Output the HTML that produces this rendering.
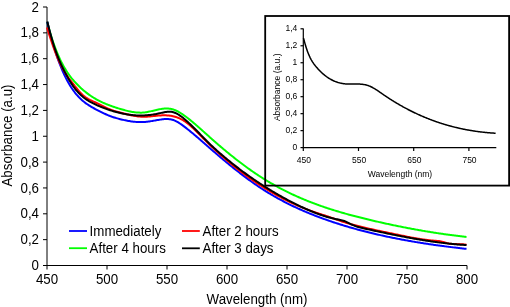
<!DOCTYPE html><html><head><meta charset="utf-8"><style>html,body{margin:0;padding:0;background:#fff;width:510px;height:307px;overflow:hidden}svg{display:block;will-change:transform}text{font-family:"Liberation Sans", sans-serif}</style></head><body>
<svg width="510" height="307" viewBox="0 0 510 307">
<g stroke="#000" stroke-width="1.2" fill="none">
<path d="M303.30,28.6 V147.60 H496.3"/>
<path d="M300.5,147.60 H303.30"/>
<path d="M300.5,130.63 H303.30"/>
<path d="M300.5,113.66 H303.30"/>
<path d="M300.5,96.68 H303.30"/>
<path d="M300.5,79.71 H303.30"/>
<path d="M300.5,62.74 H303.30"/>
<path d="M300.5,45.77 H303.30"/>
<path d="M300.5,28.80 H303.30"/>
<path d="M303.30,147.60 V151"/>
<path d="M358.50,147.60 V151"/>
<path d="M413.70,147.60 V151"/>
<path d="M468.90,147.60 V151"/>
</g>
<g font-size="8.5" fill="#000">
<text transform="translate(297.30,149.90) scale(1,1.000)" text-anchor="end">0</text>
<text transform="translate(297.30,132.93) scale(1,1.000)" text-anchor="end">0,2</text>
<text transform="translate(297.30,115.96) scale(1,1.000)" text-anchor="end">0,4</text>
<text transform="translate(297.30,98.98) scale(1,1.000)" text-anchor="end">0,6</text>
<text transform="translate(297.30,82.01) scale(1,1.000)" text-anchor="end">0,8</text>
<text transform="translate(297.30,65.04) scale(1,1.000)" text-anchor="end">1</text>
<text transform="translate(297.30,48.07) scale(1,1.000)" text-anchor="end">1,2</text>
<text transform="translate(297.30,31.10) scale(1,1.000)" text-anchor="end">1,4</text>
<text transform="translate(303.90,163.00) scale(1,1.000)" text-anchor="middle">450</text>
<text transform="translate(359.10,163.00) scale(1,1.000)" text-anchor="middle">550</text>
<text transform="translate(414.30,163.00) scale(1,1.000)" text-anchor="middle">650</text>
<text transform="translate(469.50,163.00) scale(1,1.000)" text-anchor="middle">750</text>
<text transform="translate(400.00,176.80) scale(1,1.000)" text-anchor="middle">Wavelength (nm)</text>
<text transform="translate(279.60,87.30) rotate(-90) scale(1,1.000)" text-anchor="middle">Absorbance (a.u.)</text>
</g>
<path d="M303.50,38.15 L304.00,40.02 L304.50,41.84 L305.00,43.60 L305.50,45.30 L306.00,46.93 L306.50,48.49 L307.00,49.98 L307.50,51.39 L308.00,52.72 L308.50,53.98 L309.00,55.17 L309.50,56.29 L310.00,57.36 L310.50,58.36 L311.00,59.31 L311.50,60.21 L312.00,61.06 L312.50,61.87 L313.00,62.64 L313.50,63.38 L314.00,64.08 L314.50,64.75 L315.00,65.39 L315.50,66.02 L316.00,66.62 L316.50,67.22 L317.00,67.80 L317.50,68.36 L318.00,68.92 L318.50,69.46 L319.00,70.00 L319.50,70.52 L320.00,71.03 L320.50,71.52 L321.00,72.01 L321.50,72.49 L322.00,72.95 L322.50,73.40 L323.00,73.84 L323.50,74.27 L324.00,74.69 L324.50,75.10 L325.00,75.50 L325.50,75.89 L326.00,76.27 L326.50,76.64 L327.00,76.99 L327.50,77.34 L328.00,77.68 L328.50,78.00 L329.00,78.32 L329.50,78.63 L330.00,78.93 L330.50,79.21 L331.00,79.49 L331.50,79.76 L332.00,80.02 L332.50,80.27 L333.00,80.52 L333.50,80.75 L334.00,80.97 L334.50,81.19 L335.00,81.39 L335.50,81.59 L336.00,81.78 L336.50,81.96 L337.00,82.14 L337.50,82.30 L338.00,82.46 L338.50,82.60 L339.00,82.74 L339.50,82.88 L340.00,83.00 L340.50,83.12 L341.00,83.23 L341.50,83.33 L342.00,83.43 L342.50,83.51 L343.00,83.59 L343.50,83.67 L344.00,83.73 L344.50,83.79 L345.00,83.85 L345.50,83.89 L346.00,83.93 L346.50,83.97 L347.00,84.00 L347.50,84.02 L348.00,84.04 L348.50,84.05 L349.00,84.06 L349.50,84.07 L350.00,84.07 L350.50,84.07 L351.00,84.07 L351.50,84.06 L352.00,84.06 L352.50,84.05 L353.00,84.05 L353.50,84.04 L354.00,84.03 L354.50,84.02 L355.00,84.02 L355.50,84.01 L356.00,84.01 L356.50,84.01 L357.00,84.01 L357.50,84.02 L358.00,84.03 L358.50,84.04 L359.00,84.06 L359.50,84.08 L360.00,84.10 L360.50,84.13 L361.00,84.17 L361.50,84.21 L362.00,84.26 L362.50,84.32 L363.00,84.39 L363.50,84.46 L364.00,84.54 L364.50,84.63 L365.00,84.73 L365.50,84.83 L366.00,84.95 L366.50,85.08 L367.00,85.22 L367.50,85.37 L368.00,85.53 L368.50,85.70 L369.00,85.89 L369.50,86.09 L370.00,86.30 L370.50,86.52 L371.00,86.75 L371.50,87.00 L372.00,87.25 L372.50,87.51 L373.00,87.79 L373.50,88.07 L374.00,88.36 L374.50,88.66 L375.00,88.96 L375.50,89.27 L376.00,89.59 L376.50,89.91 L377.00,90.24 L377.50,90.57 L378.00,90.90 L378.50,91.24 L379.00,91.58 L379.50,91.93 L380.00,92.27 L380.50,92.62 L381.00,92.97 L381.50,93.32 L382.00,93.66 L382.50,94.01 L383.00,94.36 L383.50,94.70 L384.00,95.04 L384.50,95.39 L385.00,95.72 L385.50,96.06 L386.00,96.40 L386.50,96.73 L387.00,97.06 L387.50,97.39 L388.00,97.72 L388.50,98.05 L389.00,98.37 L389.50,98.70 L390.00,99.02 L390.50,99.34 L391.00,99.66 L391.50,99.97 L392.00,100.29 L392.50,100.60 L393.00,100.91 L393.50,101.22 L394.00,101.53 L394.50,101.83 L395.00,102.14 L395.50,102.44 L396.00,102.74 L396.50,103.04 L397.00,103.34 L397.50,103.63 L398.00,103.93 L398.50,104.22 L399.00,104.51 L399.50,104.80 L400.00,105.09 L400.50,105.37 L401.00,105.66 L401.50,105.94 L402.00,106.22 L402.50,106.50 L403.00,106.78 L403.50,107.05 L404.00,107.33 L404.50,107.60 L405.00,107.87 L405.50,108.14 L406.00,108.41 L406.50,108.67 L407.00,108.94 L407.50,109.20 L408.00,109.46 L408.50,109.72 L409.00,109.98 L409.50,110.23 L410.00,110.49 L410.50,110.74 L411.00,110.99 L411.50,111.24 L412.00,111.49 L412.50,111.74 L413.00,111.98 L413.50,112.23 L414.00,112.47 L414.50,112.71 L415.00,112.95 L415.50,113.18 L416.00,113.42 L416.50,113.65 L417.00,113.89 L417.50,114.12 L418.00,114.35 L418.50,114.57 L419.00,114.80 L419.50,115.02 L420.00,115.25 L420.50,115.47 L421.00,115.69 L421.50,115.91 L422.00,116.12 L422.50,116.34 L423.00,116.55 L423.50,116.77 L424.00,116.98 L424.50,117.19 L425.00,117.40 L425.50,117.60 L426.00,117.81 L426.50,118.01 L427.00,118.21 L427.50,118.41 L428.00,118.61 L428.50,118.81 L429.00,119.01 L429.50,119.20 L430.00,119.39 L430.50,119.58 L431.00,119.77 L431.50,119.96 L432.00,120.15 L432.50,120.34 L433.00,120.52 L433.50,120.70 L434.00,120.88 L434.50,121.06 L435.00,121.24 L435.50,121.42 L436.00,121.60 L436.50,121.77 L437.00,121.94 L437.50,122.11 L438.00,122.28 L438.50,122.45 L439.00,122.62 L439.50,122.79 L440.00,122.95 L440.50,123.11 L441.00,123.27 L441.50,123.43 L442.00,123.59 L442.50,123.75 L443.00,123.91 L443.50,124.06 L444.00,124.21 L444.50,124.37 L445.00,124.52 L445.50,124.67 L446.00,124.81 L446.50,124.96 L447.00,125.10 L447.50,125.25 L448.00,125.39 L448.50,125.53 L449.00,125.67 L449.50,125.81 L450.00,125.95 L450.50,126.08 L451.00,126.22 L451.50,126.35 L452.00,126.48 L452.50,126.61 L453.00,126.74 L453.50,126.87 L454.00,126.99 L454.50,127.12 L455.00,127.24 L455.50,127.36 L456.00,127.49 L456.50,127.60 L457.00,127.72 L457.50,127.84 L458.00,127.96 L458.50,128.07 L459.00,128.18 L459.50,128.30 L460.00,128.41 L460.50,128.52 L461.00,128.63 L461.50,128.73 L462.00,128.84 L462.50,128.94 L463.00,129.05 L463.50,129.15 L464.00,129.25 L464.50,129.35 L465.00,129.45 L465.50,129.54 L466.00,129.64 L466.50,129.73 L467.00,129.83 L467.50,129.92 L468.00,130.01 L468.50,130.10 L469.00,130.19 L469.50,130.27 L470.00,130.36 L470.50,130.45 L471.00,130.53 L471.50,130.61 L472.00,130.69 L472.50,130.77 L473.00,130.85 L473.50,130.93 L474.00,131.01 L474.50,131.08 L475.00,131.16 L475.50,131.23 L476.00,131.30 L476.50,131.37 L477.00,131.44 L477.50,131.51 L478.00,131.58 L478.50,131.64 L479.00,131.71 L479.50,131.77 L480.00,131.83 L480.50,131.89 L481.00,131.95 L481.50,132.01 L482.00,132.07 L482.50,132.13 L483.00,132.18 L483.50,132.24 L484.00,132.29 L484.50,132.35 L485.00,132.40 L485.50,132.45 L486.00,132.50 L486.50,132.54 L487.00,132.59 L487.50,132.64 L488.00,132.68 L488.50,132.73 L489.00,132.77 L489.50,132.81 L490.00,132.85 L490.50,132.89 L491.00,132.93 L491.50,132.97 L492.00,133.00 L492.50,133.04 L493.00,133.07 L493.50,133.10 L494.00,133.14 L494.50,133.17 L495.00,133.20 L495.50,133.23 L495.60,133.23" fill="none" stroke="#000" stroke-width="1.5"/>
<g stroke="#000" stroke-width="1" fill="none">
<path d="M47.00,7.00 V265.50 H467"/>
<path d="M43,265.50 H47.00"/>
<path d="M43,239.65 H47.00"/>
<path d="M43,213.80 H47.00"/>
<path d="M43,187.95 H47.00"/>
<path d="M43,162.10 H47.00"/>
<path d="M43,136.25 H47.00"/>
<path d="M43,110.40 H47.00"/>
<path d="M43,84.55 H47.00"/>
<path d="M43,58.70 H47.00"/>
<path d="M43,32.85 H47.00"/>
<path d="M43,7.00 H47.00"/>
<path d="M47.00,265.50 V269.5"/>
<path d="M107.00,265.50 V269.5"/>
<path d="M167.00,265.50 V269.5"/>
<path d="M227.00,265.50 V269.5"/>
<path d="M287.00,265.50 V269.5"/>
<path d="M347.00,265.50 V269.5"/>
<path d="M407.00,265.50 V269.5"/>
<path d="M467.00,265.50 V269.5"/>
</g>
<g font-size="13.33" fill="#000">
<text transform="translate(39.00,270.10) scale(1,1.040)" text-anchor="end">0</text>
<text transform="translate(39.00,244.25) scale(1,1.040)" text-anchor="end">0,2</text>
<text transform="translate(39.00,218.40) scale(1,1.040)" text-anchor="end">0,4</text>
<text transform="translate(39.00,192.55) scale(1,1.040)" text-anchor="end">0,6</text>
<text transform="translate(39.00,166.70) scale(1,1.040)" text-anchor="end">0,8</text>
<text transform="translate(39.00,140.85) scale(1,1.040)" text-anchor="end">1</text>
<text transform="translate(39.00,115.00) scale(1,1.040)" text-anchor="end">1,2</text>
<text transform="translate(39.00,89.15) scale(1,1.040)" text-anchor="end">1,4</text>
<text transform="translate(39.00,63.30) scale(1,1.040)" text-anchor="end">1,6</text>
<text transform="translate(39.00,37.45) scale(1,1.040)" text-anchor="end">1,8</text>
<text transform="translate(39.00,11.60) scale(1,1.040)" text-anchor="end">2</text>
<text transform="translate(47.00,284.30) scale(1,1.040)" text-anchor="middle">450</text>
<text transform="translate(107.00,284.30) scale(1,1.040)" text-anchor="middle">500</text>
<text transform="translate(167.00,284.30) scale(1,1.040)" text-anchor="middle">550</text>
<text transform="translate(227.00,284.30) scale(1,1.040)" text-anchor="middle">600</text>
<text transform="translate(287.00,284.30) scale(1,1.040)" text-anchor="middle">650</text>
<text transform="translate(347.00,284.30) scale(1,1.040)" text-anchor="middle">700</text>
<text transform="translate(407.00,284.30) scale(1,1.040)" text-anchor="middle">750</text>
<text transform="translate(467.00,284.30) scale(1,1.040)" text-anchor="middle">800</text>
<text transform="translate(257.00,304.00) scale(1,1.040)" text-anchor="middle">Wavelength (nm)</text>
<text transform="translate(11.50,135.50) rotate(-90) scale(1,1.040)" text-anchor="middle">Absorbance (a.u)</text>
<text transform="translate(89.60,236.00) scale(1,1.040)">Immediately</text>
<text transform="translate(89.60,253.00) scale(1,1.040)">After 4 hours</text>
<text transform="translate(202.50,236.00) scale(1,1.040)">After 2 hours</text>
<text transform="translate(202.50,253.00) scale(1,1.040)">After 3 days</text>
</g>
<g stroke-width="1.8" fill="none">
<path d="M69,231 H87" stroke="#0000ff"/>
<path d="M69,248.2 H87" stroke="#00ff00"/>
<path d="M182,231 H199.8" stroke="#ff0000"/>
<path d="M182,248.3 H199.8" stroke="#000"/>
</g>
<g stroke-width="2" fill="none" stroke-linejoin="round">
<path d="M47.30,21.98 L48.30,25.88 L49.30,29.57 L50.30,33.06 L51.30,36.37 L52.30,39.51 L53.30,42.49 L54.30,45.33 L55.30,48.03 L56.30,50.61 L57.30,53.08 L58.30,55.43 L59.30,57.68 L60.30,59.82 L61.30,61.86 L62.30,63.81 L63.30,65.67 L64.30,67.44 L65.30,69.13 L66.30,70.74 L67.30,72.28 L68.30,73.74 L69.30,75.15 L70.30,76.49 L71.30,77.78 L72.30,79.01 L73.30,80.20 L74.30,81.34 L75.30,82.44 L76.30,83.51 L77.30,84.55 L78.30,85.56 L79.30,86.53 L80.30,87.48 L81.30,88.40 L82.30,89.30 L83.30,90.17 L84.30,91.01 L85.30,91.82 L86.30,92.61 L87.30,93.38 L88.30,94.12 L89.30,94.84 L90.30,95.54 L91.30,96.22 L92.30,96.87 L93.30,97.50 L94.30,98.12 L95.30,98.71 L96.30,99.28 L97.30,99.84 L98.30,100.38 L99.30,100.90 L100.30,101.40 L101.30,101.89 L102.30,102.36 L103.30,102.82 L104.30,103.27 L105.30,103.70 L106.30,104.12 L107.30,104.52 L108.30,104.92 L109.30,105.30 L110.30,105.67 L111.30,106.03 L112.30,106.39 L113.30,106.73 L114.30,107.07 L115.30,107.40 L116.30,107.72 L117.30,108.03 L118.30,108.34 L119.30,108.65 L120.30,108.95 L121.30,109.24 L122.30,109.53 L123.30,109.82 L124.30,110.09 L125.30,110.36 L126.30,110.62 L127.30,110.87 L128.30,111.10 L129.30,111.33 L130.30,111.53 L131.30,111.73 L132.30,111.91 L133.30,112.07 L134.30,112.21 L135.30,112.34 L136.30,112.44 L137.30,112.52 L138.30,112.59 L139.30,112.62 L140.30,112.64 L141.30,112.63 L142.30,112.59 L143.30,112.52 L144.30,112.43 L145.30,112.31 L146.30,112.16 L147.30,111.99 L148.30,111.80 L149.30,111.60 L150.30,111.38 L151.30,111.15 L152.30,110.91 L153.30,110.67 L154.30,110.43 L155.30,110.19 L156.30,109.96 L157.30,109.73 L158.30,109.51 L159.30,109.31 L160.30,109.12 L161.30,108.95 L162.30,108.81 L163.30,108.69 L164.30,108.60 L165.30,108.54 L166.30,108.51 L167.30,108.52 L168.30,108.57 L169.30,108.67 L170.30,108.81 L171.30,109.00 L172.30,109.25 L173.30,109.54 L174.30,109.89 L175.30,110.29 L176.30,110.73 L177.30,111.21 L178.30,111.74 L179.30,112.30 L180.30,112.89 L181.30,113.52 L182.30,114.18 L183.30,114.86 L184.30,115.56 L185.30,116.29 L186.30,117.03 L187.30,117.79 L188.30,118.56 L189.30,119.35 L190.30,120.14 L191.30,120.96 L192.30,121.78 L193.30,122.61 L194.30,123.46 L195.30,124.31 L196.30,125.17 L197.30,126.04 L198.30,126.92 L199.30,127.80 L200.30,128.68 L201.30,129.57 L202.30,130.47 L203.30,131.37 L204.30,132.26 L205.30,133.16 L206.30,134.06 L207.30,134.96 L208.30,135.86 L209.30,136.76 L210.30,137.65 L211.30,138.54 L212.30,139.42 L213.30,140.31 L214.30,141.18 L215.30,142.06 L216.30,142.93 L217.30,143.80 L218.30,144.66 L219.30,145.52 L220.30,146.37 L221.30,147.22 L222.30,148.07 L223.30,148.91 L224.30,149.75 L225.30,150.58 L226.30,151.41 L227.30,152.24 L228.30,153.06 L229.30,153.87 L230.30,154.69 L231.30,155.49 L232.30,156.29 L233.30,157.09 L234.30,157.88 L235.30,158.67 L236.30,159.45 L237.30,160.23 L238.30,161.00 L239.30,161.77 L240.30,162.53 L241.30,163.29 L242.30,164.04 L243.30,164.79 L244.30,165.53 L245.30,166.27 L246.30,167.00 L247.30,167.72 L248.30,168.44 L249.30,169.16 L250.30,169.86 L251.30,170.57 L252.30,171.26 L253.30,171.95 L254.30,172.64 L255.30,173.32 L256.30,173.99 L257.30,174.66 L258.30,175.32 L259.30,175.97 L260.30,176.62 L261.30,177.26 L262.30,177.90 L263.30,178.53 L264.30,179.15 L265.30,179.77 L266.30,180.38 L267.30,180.99 L268.30,181.58 L269.30,182.18 L270.30,182.77 L271.30,183.35 L272.30,183.92 L273.30,184.49 L274.30,185.06 L275.30,185.62 L276.30,186.17 L277.30,186.72 L278.30,187.26 L279.30,187.80 L280.30,188.33 L281.30,188.86 L282.30,189.38 L283.30,189.90 L284.30,190.41 L285.30,190.91 L286.30,191.41 L287.30,191.91 L288.30,192.40 L289.30,192.88 L290.30,193.37 L291.30,193.84 L292.30,194.31 L293.30,194.78 L294.30,195.24 L295.30,195.70 L296.30,196.15 L297.30,196.60 L298.30,197.04 L299.30,197.48 L300.30,197.91 L301.30,198.34 L302.30,198.77 L303.30,199.19 L304.30,199.61 L305.30,200.02 L306.30,200.43 L307.30,200.83 L308.30,201.23 L309.30,201.63 L310.30,202.02 L311.30,202.41 L312.30,202.79 L313.30,203.17 L314.30,203.55 L315.30,203.92 L316.30,204.29 L317.30,204.66 L318.30,205.02 L319.30,205.38 L320.30,205.73 L321.30,206.08 L322.30,206.43 L323.30,206.78 L324.30,207.12 L325.30,207.45 L326.30,207.79 L327.30,208.12 L328.30,208.45 L329.30,208.77 L330.30,209.10 L331.30,209.42 L332.30,209.73 L333.30,210.05 L334.30,210.36 L335.30,210.66 L336.30,210.97 L337.30,211.27 L338.30,211.57 L339.30,211.87 L340.30,212.16 L341.30,212.45 L342.30,212.74 L343.30,213.03 L344.30,213.31 L345.30,213.60 L346.30,213.87 L347.30,214.15 L348.30,214.43 L349.30,214.70 L350.30,214.97 L351.30,215.24 L352.30,215.51 L353.30,215.77 L354.30,216.03 L355.30,216.30 L356.30,216.55 L357.30,216.81 L358.30,217.07 L359.30,217.32 L360.30,217.57 L361.30,217.82 L362.30,218.07 L363.30,218.32 L364.30,218.57 L365.30,218.81 L366.30,219.05 L367.30,219.29 L368.30,219.54 L369.30,219.77 L370.30,220.01 L371.30,220.25 L372.30,220.48 L373.30,220.72 L374.30,220.95 L375.30,221.18 L376.30,221.42 L377.30,221.65 L378.30,221.87 L379.30,222.10 L380.30,222.33 L381.30,222.55 L382.30,222.78 L383.30,223.00 L384.30,223.22 L385.30,223.44 L386.30,223.66 L387.30,223.88 L388.30,224.09 L389.30,224.31 L390.30,224.52 L391.30,224.73 L392.30,224.95 L393.30,225.16 L394.30,225.37 L395.30,225.57 L396.30,225.78 L397.30,225.98 L398.30,226.19 L399.30,226.39 L400.30,226.59 L401.30,226.79 L402.30,226.99 L403.30,227.19 L404.30,227.39 L405.30,227.58 L406.30,227.77 L407.30,227.97 L408.30,228.16 L409.30,228.35 L410.30,228.54 L411.30,228.72 L412.30,228.91 L413.30,229.09 L414.30,229.28 L415.30,229.46 L416.30,229.64 L417.30,229.82 L418.30,230.00 L419.30,230.17 L420.30,230.35 L421.30,230.52 L422.30,230.69 L423.30,230.87 L424.30,231.04 L425.30,231.20 L426.30,231.37 L427.30,231.54 L428.30,231.70 L429.30,231.86 L430.30,232.03 L431.30,232.19 L432.30,232.34 L433.30,232.50 L434.30,232.66 L435.30,232.81 L436.30,232.97 L437.30,233.12 L438.30,233.27 L439.30,233.42 L440.30,233.57 L441.30,233.71 L442.30,233.86 L443.30,234.00 L444.30,234.14 L445.30,234.28 L446.30,234.42 L447.30,234.56 L448.30,234.70 L449.30,234.83 L450.30,234.96 L451.30,235.10 L452.30,235.23 L453.30,235.35 L454.30,235.48 L455.30,235.61 L456.30,235.73 L457.30,235.86 L458.30,235.98 L459.30,236.10 L460.30,236.22 L461.30,236.33 L462.30,236.45 L463.30,236.56 L464.30,236.68 L465.30,236.79 L466.30,236.90 L466.50,236.92" stroke="#00ff00"/>
<path d="M47.30,22.08 L48.30,26.31 L49.30,30.38 L50.30,34.27 L51.30,38.01 L52.30,41.60 L53.30,45.04 L54.30,48.33 L55.30,51.50 L56.30,54.53 L57.30,57.44 L58.30,60.24 L59.30,62.92 L60.30,65.50 L61.30,67.97 L62.30,70.34 L63.30,72.61 L64.30,74.78 L65.30,76.86 L66.30,78.85 L67.30,80.74 L68.30,82.55 L69.30,84.28 L70.30,85.93 L71.30,87.50 L72.30,89.00 L73.30,90.42 L74.30,91.77 L75.30,93.06 L76.30,94.28 L77.30,95.44 L78.30,96.54 L79.30,97.58 L80.30,98.58 L81.30,99.52 L82.30,100.41 L83.30,101.26 L84.30,102.07 L85.30,102.84 L86.30,103.58 L87.30,104.28 L88.30,104.95 L89.30,105.59 L90.30,106.21 L91.30,106.81 L92.30,107.39 L93.30,107.95 L94.30,108.50 L95.30,109.04 L96.30,109.57 L97.30,110.10 L98.30,110.62 L99.30,111.14 L100.30,111.64 L101.30,112.14 L102.30,112.63 L103.30,113.11 L104.30,113.58 L105.30,114.03 L106.30,114.48 L107.30,114.91 L108.30,115.33 L109.30,115.73 L110.30,116.12 L111.30,116.49 L112.30,116.84 L113.30,117.18 L114.30,117.50 L115.30,117.81 L116.30,118.10 L117.30,118.38 L118.30,118.65 L119.30,118.92 L120.30,119.17 L121.30,119.42 L122.30,119.66 L123.30,119.89 L124.30,120.11 L125.30,120.32 L126.30,120.53 L127.30,120.72 L128.30,120.90 L129.30,121.08 L130.30,121.24 L131.30,121.39 L132.30,121.52 L133.30,121.64 L134.30,121.75 L135.30,121.85 L136.30,121.92 L137.30,121.99 L138.30,122.04 L139.30,122.07 L140.30,122.08 L141.30,122.08 L142.30,122.06 L143.30,122.02 L144.30,121.96 L145.30,121.89 L146.30,121.79 L147.30,121.69 L148.30,121.56 L149.30,121.43 L150.30,121.28 L151.30,121.13 L152.30,120.97 L153.30,120.80 L154.30,120.63 L155.30,120.46 L156.30,120.28 L157.30,120.11 L158.30,119.94 L159.30,119.78 L160.30,119.62 L161.30,119.47 L162.30,119.33 L163.30,119.21 L164.30,119.11 L165.30,119.05 L166.30,119.01 L167.30,119.01 L168.30,119.05 L169.30,119.14 L170.30,119.28 L171.30,119.48 L172.30,119.74 L173.30,120.06 L174.30,120.43 L175.30,120.87 L176.30,121.35 L177.30,121.88 L178.30,122.46 L179.30,123.07 L180.30,123.72 L181.30,124.41 L182.30,125.12 L183.30,125.85 L184.30,126.60 L185.30,127.37 L186.30,128.15 L187.30,128.94 L188.30,129.74 L189.30,130.54 L190.30,131.36 L191.30,132.18 L192.30,133.01 L193.30,133.84 L194.30,134.68 L195.30,135.53 L196.30,136.38 L197.30,137.23 L198.30,138.09 L199.30,138.96 L200.30,139.82 L201.30,140.69 L202.30,141.56 L203.30,142.43 L204.30,143.30 L205.30,144.18 L206.30,145.05 L207.30,145.93 L208.30,146.80 L209.30,147.67 L210.30,148.54 L211.30,149.41 L212.30,150.28 L213.30,151.14 L214.30,152.00 L215.30,152.87 L216.30,153.72 L217.30,154.58 L218.30,155.43 L219.30,156.28 L220.30,157.13 L221.30,157.97 L222.30,158.81 L223.30,159.65 L224.30,160.49 L225.30,161.32 L226.30,162.15 L227.30,162.97 L228.30,163.80 L229.30,164.62 L230.30,165.43 L231.30,166.24 L232.30,167.05 L233.30,167.85 L234.30,168.65 L235.30,169.45 L236.30,170.24 L237.30,171.02 L238.30,171.80 L239.30,172.58 L240.30,173.36 L241.30,174.12 L242.30,174.89 L243.30,175.65 L244.30,176.40 L245.30,177.15 L246.30,177.89 L247.30,178.63 L248.30,179.36 L249.30,180.09 L250.30,180.81 L251.30,181.53 L252.30,182.24 L253.30,182.95 L254.30,183.64 L255.30,184.34 L256.30,185.03 L257.30,185.71 L258.30,186.38 L259.30,187.05 L260.30,187.71 L261.30,188.37 L262.30,189.02 L263.30,189.66 L264.30,190.30 L265.30,190.93 L266.30,191.55 L267.30,192.17 L268.30,192.78 L269.30,193.38 L270.30,193.98 L271.30,194.58 L272.30,195.17 L273.30,195.75 L274.30,196.32 L275.30,196.90 L276.30,197.46 L277.30,198.02 L278.30,198.57 L279.30,199.12 L280.30,199.67 L281.30,200.20 L282.30,200.74 L283.30,201.26 L284.30,201.79 L285.30,202.30 L286.30,202.82 L287.30,203.32 L288.30,203.82 L289.30,204.32 L290.30,204.81 L291.30,205.30 L292.30,205.78 L293.30,206.26 L294.30,206.73 L295.30,207.20 L296.30,207.67 L297.30,208.13 L298.30,208.58 L299.30,209.03 L300.30,209.48 L301.30,209.92 L302.30,210.36 L303.30,210.80 L304.30,211.23 L305.30,211.65 L306.30,212.08 L307.30,212.49 L308.30,212.91 L309.30,213.32 L310.30,213.73 L311.30,214.13 L312.30,214.53 L313.30,214.93 L314.30,215.32 L315.30,215.71 L316.30,216.10 L317.30,216.48 L318.30,216.86 L319.30,217.23 L320.30,217.61 L321.30,217.98 L322.30,218.34 L323.30,218.71 L324.30,219.07 L325.30,219.43 L326.30,219.78 L327.30,220.13 L328.30,220.48 L329.30,220.83 L330.30,221.17 L331.30,221.51 L332.30,221.85 L333.30,222.18 L334.30,222.51 L335.30,222.84 L336.30,223.17 L337.30,223.49 L338.30,223.81 L339.30,224.13 L340.30,224.45 L341.30,224.76 L342.30,225.07 L343.30,225.38 L344.30,225.68 L345.30,225.98 L346.30,226.28 L347.30,226.58 L348.30,226.88 L349.30,227.17 L350.30,227.46 L351.30,227.74 L352.30,228.03 L353.30,228.31 L354.30,228.59 L355.30,228.87 L356.30,229.15 L357.30,229.42 L358.30,229.69 L359.30,229.96 L360.30,230.22 L361.30,230.49 L362.30,230.75 L363.30,231.01 L364.30,231.27 L365.30,231.52 L366.30,231.78 L367.30,232.03 L368.30,232.28 L369.30,232.53 L370.30,232.77 L371.30,233.02 L372.30,233.26 L373.30,233.50 L374.30,233.73 L375.30,233.97 L376.30,234.20 L377.30,234.44 L378.30,234.67 L379.30,234.89 L380.30,235.12 L381.30,235.35 L382.30,235.57 L383.30,235.79 L384.30,236.01 L385.30,236.22 L386.30,236.44 L387.30,236.65 L388.30,236.87 L389.30,237.08 L390.30,237.28 L391.30,237.49 L392.30,237.69 L393.30,237.90 L394.30,238.10 L395.30,238.30 L396.30,238.50 L397.30,238.69 L398.30,238.89 L399.30,239.08 L400.30,239.27 L401.30,239.46 L402.30,239.65 L403.30,239.84 L404.30,240.02 L405.30,240.20 L406.30,240.39 L407.30,240.57 L408.30,240.75 L409.30,240.92 L410.30,241.10 L411.30,241.27 L412.30,241.44 L413.30,241.62 L414.30,241.79 L415.30,241.95 L416.30,242.12 L417.30,242.29 L418.30,242.45 L419.30,242.61 L420.30,242.77 L421.30,242.93 L422.30,243.09 L423.30,243.25 L424.30,243.40 L425.30,243.56 L426.30,243.71 L427.30,243.86 L428.30,244.01 L429.30,244.16 L430.30,244.31 L431.30,244.45 L432.30,244.60 L433.30,244.74 L434.30,244.89 L435.30,245.03 L436.30,245.17 L437.30,245.31 L438.30,245.44 L439.30,245.58 L440.30,245.71 L441.30,245.85 L442.30,245.98 L443.30,246.11 L444.30,246.24 L445.30,246.37 L446.30,246.50 L447.30,246.63 L448.30,246.76 L449.30,246.88 L450.30,247.01 L451.30,247.13 L452.30,247.25 L453.30,247.37 L454.30,247.49 L455.30,247.61 L456.30,247.73 L457.30,247.85 L458.30,247.96 L459.30,248.08 L460.30,248.19 L461.30,248.31 L462.30,248.42 L463.30,248.53 L464.30,248.64 L465.30,248.75 L466.30,248.86 L466.50,248.88" stroke="#0000ff"/>
<path d="M47.00,27.57 L48.00,30.71 L49.00,33.83 L50.00,36.90 L51.00,39.93 L52.00,42.90 L53.00,45.81 L54.00,48.63 L55.00,51.37 L56.00,54.01 L57.00,56.54 L58.00,58.95 L59.00,61.23 L60.00,63.39 L61.00,65.43 L62.00,67.36 L63.00,69.18 L64.00,70.92 L65.00,72.56 L66.00,74.13 L67.00,75.64 L68.00,77.08 L69.00,78.48 L70.00,79.83 L71.00,81.15 L72.00,82.44 L73.00,83.72 L74.00,84.99 L75.00,86.25 L76.00,87.49 L77.00,88.71 L78.00,89.90 L79.00,91.05 L80.00,92.16 L81.00,93.22 L82.00,94.22 L83.00,95.16 L84.00,96.03 L85.00,96.82 L86.00,97.55 L87.00,98.22 L88.00,98.83 L89.00,99.40 L90.00,99.93 L91.00,100.43 L92.00,100.91 L93.00,101.37 L94.00,101.82 L95.00,102.27 L96.00,102.73 L97.00,103.20 L98.00,103.68 L99.00,104.16 L100.00,104.66 L101.00,105.16 L102.00,105.65 L103.00,106.15 L104.00,106.65 L105.00,107.13 L106.00,107.61 L107.00,108.08 L108.00,108.54 L109.00,108.98 L110.00,109.40 L111.00,109.80 L112.00,110.17 L113.00,110.52 L114.00,110.85 L115.00,111.16 L116.00,111.46 L117.00,111.74 L118.00,112.01 L119.00,112.28 L120.00,112.54 L121.00,112.80 L122.00,113.06 L123.00,113.32 L124.00,113.58 L125.00,113.83 L126.00,114.08 L127.00,114.33 L128.00,114.57 L129.00,114.80 L130.00,115.02 L131.00,115.23 L132.00,115.44 L133.00,115.63 L134.00,115.81 L135.00,115.98 L136.00,116.13 L137.00,116.27 L138.00,116.40 L139.00,116.50 L140.00,116.59 L141.00,116.66 L142.00,116.72 L143.00,116.75 L144.00,116.76 L145.00,116.74 L146.00,116.71 L147.00,116.66 L148.00,116.60 L149.00,116.52 L150.00,116.43 L151.00,116.33 L152.00,116.23 L153.00,116.12 L154.00,116.01 L155.00,115.90 L156.00,115.80 L157.00,115.69 L158.00,115.60 L159.00,115.51 L160.00,115.44 L161.00,115.38 L162.00,115.34 L163.00,115.31 L164.00,115.30 L165.00,115.31 L166.00,115.34 L167.00,115.39 L168.00,115.47 L169.00,115.56 L170.00,115.69 L171.00,115.84 L172.00,116.02 L173.00,116.22 L174.00,116.46 L175.00,116.73 L176.00,117.03 L177.00,117.37 L178.00,117.74 L179.00,118.15 L180.00,118.60 L181.00,119.08 L182.00,119.61 L183.00,120.18 L184.00,120.79 L185.00,121.44 L186.00,122.14 L187.00,122.89 L188.00,123.68 L189.00,124.51 L190.00,125.37 L191.00,126.27 L192.00,127.19 L193.00,128.14 L194.00,129.11 L195.00,130.10 L196.00,131.10 L197.00,132.11 L198.00,133.12 L199.00,134.14 L200.00,135.15 L201.00,136.16 L202.00,137.17 L203.00,138.17 L204.00,139.16 L205.00,140.15 L206.00,141.13 L207.00,142.11 L208.00,143.08 L209.00,144.04 L210.00,145.00 L211.00,145.96 L212.00,146.91 L213.00,147.85 L214.00,148.78 L215.00,149.72 L216.00,150.64 L217.00,151.56 L218.00,152.47 L219.00,153.38 L220.00,154.28 L221.00,155.17 L222.00,156.06 L223.00,156.94 L224.00,157.82 L225.00,158.69 L226.00,159.55 L227.00,160.41 L228.00,161.26 L229.00,162.10 L230.00,162.94 L231.00,163.77 L232.00,164.59 L233.00,165.41 L234.00,166.22 L235.00,167.02 L236.00,167.82 L237.00,168.61 L238.00,169.40 L239.00,170.18 L240.00,170.95 L241.00,171.71 L242.00,172.47 L243.00,173.23 L244.00,173.98 L245.00,174.72 L246.00,175.45 L247.00,176.18 L248.00,176.90 L249.00,177.62 L250.00,178.33 L251.00,179.03 L252.00,179.73 L253.00,180.43 L254.00,181.11 L255.00,181.79 L256.00,182.47 L257.00,183.14 L258.00,183.80 L259.00,184.46 L260.00,185.11 L261.00,185.75 L262.00,186.39 L263.00,187.03 L264.00,187.66 L265.00,188.28 L266.00,188.90 L267.00,189.51 L268.00,190.11 L269.00,190.71 L270.00,191.31 L271.00,191.90 L272.00,192.48 L273.00,193.06 L274.00,193.63 L275.00,194.20 L276.00,194.76 L277.00,195.32 L278.00,195.87 L279.00,196.41 L280.00,196.95 L281.00,197.49 L282.00,198.02 L283.00,198.54 L284.00,199.06 L285.00,199.58 L286.00,200.08 L287.00,200.59 L288.00,201.08 L289.00,201.58 L290.00,202.06 L291.00,202.54 L292.00,203.02 L293.00,203.49 L294.00,203.95 L295.00,204.41 L296.00,204.86 L297.00,205.30 L298.00,205.74 L299.00,206.18 L300.00,206.61 L301.00,207.03 L302.00,207.44 L303.00,207.85 L304.00,208.26 L305.00,208.65 L306.00,209.04 L307.00,209.43 L308.00,209.81 L309.00,210.18 L310.00,210.54 L311.00,210.90 L312.00,211.26 L313.00,211.61 L314.00,211.95 L315.00,212.29 L316.00,212.62 L317.00,212.96 L318.00,213.29 L319.00,213.61 L320.00,213.94 L321.00,214.27 L322.00,214.59 L323.00,214.92 L324.00,215.24 L325.00,215.57 L326.00,215.90 L327.00,216.23 L328.00,216.57 L329.00,216.91 L330.00,217.25 L331.00,217.60 L332.00,217.95 L333.00,218.31 L334.00,218.66 L335.00,219.02 L336.00,219.37 L337.00,219.73 L338.00,220.08 L339.00,220.43 L340.00,220.77 L341.00,221.10 L342.00,221.43 L343.00,221.76 L344.00,222.08 L345.00,222.39 L346.00,222.70 L347.00,223.01 L348.00,223.31 L349.00,223.60 L350.00,223.89 L351.00,224.17 L352.00,224.45 L353.00,224.73 L354.00,225.00 L355.00,225.27 L356.00,225.53 L357.00,225.79 L358.00,226.05 L359.00,226.30 L360.00,226.55 L361.00,226.79 L362.00,227.04 L363.00,227.28 L364.00,227.51 L365.00,227.75 L366.00,227.98 L367.00,228.21 L368.00,228.44 L369.00,228.66 L370.00,228.88 L371.00,229.10 L372.00,229.32 L373.00,229.54 L374.00,229.76 L375.00,229.97 L376.00,230.18 L377.00,230.40 L378.00,230.61 L379.00,230.82 L380.00,231.03 L381.00,231.24 L382.00,231.45 L383.00,231.65 L384.00,231.86 L385.00,232.07 L386.00,232.28 L387.00,232.49 L388.00,232.70 L389.00,232.91 L390.00,233.12 L391.00,233.33 L392.00,233.54 L393.00,233.75 L394.00,233.96 L395.00,234.17 L396.00,234.39 L397.00,234.60 L398.00,234.81 L399.00,235.02 L400.00,235.23 L401.00,235.44 L402.00,235.65 L403.00,235.85 L404.00,236.06 L405.00,236.26 L406.00,236.46 L407.00,236.66 L408.00,236.86 L409.00,237.05 L410.00,237.25 L411.00,237.44 L412.00,237.62 L413.00,237.81 L414.00,237.99 L415.00,238.17 L416.00,238.34 L417.00,238.51 L418.00,238.68 L419.00,238.84 L420.00,239.00 L421.00,239.15 L422.00,239.30 L423.00,239.45 L424.00,239.59 L425.00,239.72 L426.00,239.85 L427.00,239.97 L428.00,240.09 L429.00,240.20 L430.00,240.31 L431.00,240.41 L432.00,240.50 L433.00,240.59 L434.00,240.67 L435.00,240.75 L436.00,240.82 L437.00,240.89 L438.00,240.97 L439.00,241.08 L440.00,241.21 L441.00,241.39 L442.00,241.62 L443.00,241.90 L444.00,242.22 L445.00,242.54 L446.00,242.84 L447.00,243.11 L448.00,243.33 L449.00,243.52 L450.00,243.67 L451.00,243.79 L452.00,243.89 L453.00,243.97 L454.00,244.02 L455.00,244.07 L456.00,244.10 L457.00,244.13 L458.00,244.15 L459.00,244.18 L460.00,244.21 L461.00,244.25 L462.00,244.30 L463.00,244.37 L464.00,244.45 L465.00,244.57 L466.00,244.71 L466.50,244.79" stroke="#ff0000"/>
<path d="M47.30,21.52 L48.30,25.66 L49.30,29.62 L50.30,33.42 L51.30,37.05 L52.30,40.51 L53.30,43.81 L54.30,46.94 L55.30,49.91 L56.30,52.71 L57.30,55.37 L58.30,57.90 L59.30,60.31 L60.30,62.60 L61.30,64.80 L62.30,66.92 L63.30,68.96 L64.30,70.94 L65.30,72.88 L66.30,74.77 L67.30,76.61 L68.30,78.40 L69.30,80.13 L70.30,81.80 L71.30,83.39 L72.30,84.91 L73.30,86.36 L74.30,87.73 L75.30,89.02 L76.30,90.25 L77.30,91.42 L78.30,92.52 L79.30,93.56 L80.30,94.54 L81.30,95.47 L82.30,96.35 L83.30,97.18 L84.30,97.97 L85.30,98.71 L86.30,99.41 L87.30,100.07 L88.30,100.70 L89.30,101.30 L90.30,101.87 L91.30,102.41 L92.30,102.93 L93.30,103.44 L94.30,103.92 L95.30,104.39 L96.30,104.84 L97.30,105.29 L98.30,105.73 L99.30,106.16 L100.30,106.58 L101.30,106.99 L102.30,107.39 L103.30,107.78 L104.30,108.16 L105.30,108.53 L106.30,108.89 L107.30,109.25 L108.30,109.59 L109.30,109.93 L110.30,110.26 L111.30,110.58 L112.30,110.89 L113.30,111.19 L114.30,111.48 L115.30,111.77 L116.30,112.04 L117.30,112.31 L118.30,112.56 L119.30,112.81 L120.30,113.04 L121.30,113.27 L122.30,113.49 L123.30,113.69 L124.30,113.89 L125.30,114.07 L126.30,114.25 L127.30,114.41 L128.30,114.57 L129.30,114.71 L130.30,114.84 L131.30,114.96 L132.30,115.07 L133.30,115.16 L134.30,115.25 L135.30,115.32 L136.30,115.38 L137.30,115.43 L138.30,115.47 L139.30,115.49 L140.30,115.50 L141.30,115.50 L142.30,115.48 L143.30,115.45 L144.30,115.41 L145.30,115.36 L146.30,115.29 L147.30,115.21 L148.30,115.12 L149.30,115.01 L150.30,114.89 L151.30,114.77 L152.30,114.63 L153.30,114.47 L154.30,114.31 L155.30,114.14 L156.30,113.95 L157.30,113.76 L158.30,113.56 L159.30,113.34 L160.30,113.12 L161.30,112.89 L162.30,112.66 L163.30,112.44 L164.30,112.23 L165.30,112.05 L166.30,111.89 L167.30,111.77 L168.30,111.70 L169.30,111.67 L170.30,111.71 L171.30,111.81 L172.30,111.99 L173.30,112.24 L174.30,112.56 L175.30,112.95 L176.30,113.41 L177.30,113.93 L178.30,114.50 L179.30,115.13 L180.30,115.81 L181.30,116.52 L182.30,117.28 L183.30,118.08 L184.30,118.90 L185.30,119.75 L186.30,120.63 L187.30,121.52 L188.30,122.44 L189.30,123.37 L190.30,124.32 L191.30,125.28 L192.30,126.25 L193.30,127.23 L194.30,128.23 L195.30,129.23 L196.30,130.24 L197.30,131.26 L198.30,132.28 L199.30,133.31 L200.30,134.34 L201.30,135.36 L202.30,136.39 L203.30,137.42 L204.30,138.44 L205.30,139.45 L206.30,140.46 L207.30,141.46 L208.30,142.46 L209.30,143.44 L210.30,144.41 L211.30,145.37 L212.30,146.31 L213.30,147.25 L214.30,148.17 L215.30,149.09 L216.30,149.99 L217.30,150.88 L218.30,151.77 L219.30,152.65 L220.30,153.52 L221.30,154.38 L222.30,155.24 L223.30,156.09 L224.30,156.94 L225.30,157.78 L226.30,158.61 L227.30,159.44 L228.30,160.26 L229.30,161.08 L230.30,161.89 L231.30,162.69 L232.30,163.49 L233.30,164.29 L234.30,165.08 L235.30,165.86 L236.30,166.64 L237.30,167.41 L238.30,168.17 L239.30,168.94 L240.30,169.69 L241.30,170.44 L242.30,171.19 L243.30,171.93 L244.30,172.66 L245.30,173.39 L246.30,174.12 L247.30,174.84 L248.30,175.55 L249.30,176.26 L250.30,176.96 L251.30,177.66 L252.30,178.36 L253.30,179.04 L254.30,179.73 L255.30,180.41 L256.30,181.08 L257.30,181.75 L258.30,182.42 L259.30,183.08 L260.30,183.73 L261.30,184.38 L262.30,185.03 L263.30,185.67 L264.30,186.31 L265.30,186.94 L266.30,187.57 L267.30,188.19 L268.30,188.81 L269.30,189.42 L270.30,190.03 L271.30,190.64 L272.30,191.24 L273.30,191.84 L274.30,192.43 L275.30,193.02 L276.30,193.60 L277.30,194.18 L278.30,194.76 L279.30,195.33 L280.30,195.90 L281.30,196.46 L282.30,197.02 L283.30,197.58 L284.30,198.13 L285.30,198.67 L286.30,199.22 L287.30,199.76 L288.30,200.29 L289.30,200.82 L290.30,201.34 L291.30,201.86 L292.30,202.38 L293.30,202.89 L294.30,203.40 L295.30,203.90 L296.30,204.40 L297.30,204.89 L298.30,205.37 L299.30,205.86 L300.30,206.33 L301.30,206.80 L302.30,207.27 L303.30,207.73 L304.30,208.19 L305.30,208.64 L306.30,209.09 L307.30,209.53 L308.30,209.96 L309.30,210.39 L310.30,210.82 L311.30,211.23 L312.30,211.65 L313.30,212.05 L314.30,212.45 L315.30,212.85 L316.30,213.23 L317.30,213.61 L318.30,213.98 L319.30,214.35 L320.30,214.71 L321.30,215.06 L322.30,215.40 L323.30,215.73 L324.30,216.05 L325.30,216.37 L326.30,216.67 L327.30,216.97 L328.30,217.25 L329.30,217.53 L330.30,217.79 L331.30,218.05 L332.30,218.29 L333.30,218.53 L334.30,218.75 L335.30,218.96 L336.30,219.16 L337.30,219.35 L338.30,219.54 L339.30,219.73 L340.30,219.94 L341.30,220.17 L342.30,220.42 L343.30,220.71 L344.30,221.04 L345.30,221.42 L346.30,221.86 L347.30,222.34 L348.30,222.84 L349.30,223.34 L350.30,223.83 L351.30,224.31 L352.30,224.76 L353.30,225.19 L354.30,225.59 L355.30,225.98 L356.30,226.34 L357.30,226.68 L358.30,226.99 L359.30,227.28 L360.30,227.55 L361.30,227.81 L362.30,228.04 L363.30,228.27 L364.30,228.50 L365.30,228.72 L366.30,228.94 L367.30,229.15 L368.30,229.37 L369.30,229.59 L370.30,229.81 L371.30,230.03 L372.30,230.25 L373.30,230.46 L374.30,230.68 L375.30,230.90 L376.30,231.11 L377.30,231.33 L378.30,231.54 L379.30,231.76 L380.30,231.97 L381.30,232.18 L382.30,232.39 L383.30,232.60 L384.30,232.82 L385.30,233.03 L386.30,233.23 L387.30,233.44 L388.30,233.65 L389.30,233.86 L390.30,234.06 L391.30,234.27 L392.30,234.47 L393.30,234.67 L394.30,234.88 L395.30,235.08 L396.30,235.28 L397.30,235.48 L398.30,235.67 L399.30,235.87 L400.30,236.07 L401.30,236.26 L402.30,236.45 L403.30,236.64 L404.30,236.84 L405.30,237.02 L406.30,237.21 L407.30,237.40 L408.30,237.58 L409.30,237.77 L410.30,237.95 L411.30,238.13 L412.30,238.31 L413.30,238.49 L414.30,238.66 L415.30,238.84 L416.30,239.01 L417.30,239.18 L418.30,239.35 L419.30,239.52 L420.30,239.69 L421.30,239.85 L422.30,240.02 L423.30,240.18 L424.30,240.34 L425.30,240.50 L426.30,240.65 L427.30,240.81 L428.30,240.96 L429.30,241.11 L430.30,241.26 L431.30,241.40 L432.30,241.55 L433.30,241.69 L434.30,241.83 L435.30,241.97 L436.30,242.10 L437.30,242.24 L438.30,242.37 L439.30,242.50 L440.30,242.62 L441.30,242.75 L442.30,242.87 L443.30,242.99 L444.30,243.11 L445.30,243.22 L446.30,243.34 L447.30,243.45 L448.30,243.55 L449.30,243.66 L450.30,243.76 L451.30,243.86 L452.30,243.96 L453.30,244.06 L454.30,244.15 L455.30,244.24 L456.30,244.33 L457.30,244.41 L458.30,244.49 L459.30,244.57 L460.30,244.65 L461.30,244.72 L462.30,244.79 L463.30,244.86 L464.30,244.93 L465.30,244.99 L466.30,245.05 L466.50,245.06" stroke="#000"/>
</g>
<rect x="265.2" y="16" width="243.9" height="169.6" fill="none" stroke="#000" stroke-width="1.8"/>
</svg></body></html>
